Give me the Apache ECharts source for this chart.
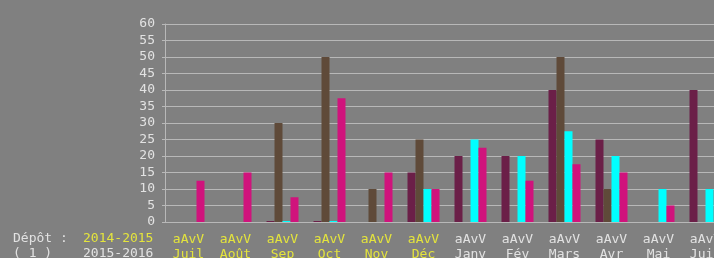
<!DOCTYPE html>
<html>
<head>
<meta charset="utf-8">
<script src="https://cdn.jsdelivr.net/npm/echarts@6/dist/echarts.min.js"></script>
<style>
  html, body { margin: 0; padding: 0; background: #808080; }
  #chart { width: 714px; height: 258px; }
</style>
</head>
<body>
<div id="chart"></div>
<script>
// data
const months = ['Juil', 'Août', 'Sep', 'Oct', 'Nov', 'Déc', 'Janv', 'Fév', 'Mars', 'Avr', 'Mai', 'Juin'];
const seasonA = [0, 0, 0.3, 0.3, 0, 15, 20, 20, 40, 25, 0, 40];
const seasonB = [0, 0, 30, 50, 10, 25, 0, 0, 50, 10, 0, 0];
const seasonC = [0, 0, 0.3, 0.3, 0, 10, 25, 20, 27.5, 20, 10, 10];
const seasonD = [12.5, 15, 7.5, 37.5, 15, 10, 22.5, 12.5, 17.5, 15, 5, 0];
const yTicks = [0, 5, 10, 15, 20, 25, 30, 35, 40, 45, 50, 55, 60];

const mono = 'DejaVu Sans Mono';
const yellow = '#e4e43c';
const light = '#e2e2e2';
const lineCol = '#b8b8b8';

const chart = echarts.init(document.getElementById('chart'));

const bar = (name, data, color) => ({
  name: name,
  type: 'bar',
  data: data,
  barWidth: 8,
  barGap: '0%',
  itemStyle: { color: color }
});

chart.setOption({
  backgroundColor: '#808080',
  animation: false,
  // the plot runs past the right edge and the labels past the bottom, as in the original
  grid: { left: 165, width: 564, top: 24, bottom: 36, outerBoundsMode: 'none' },
  xAxis: {
    type: 'category',
    data: months,
    axisLine: { lineStyle: { color: lineCol } },
    axisTick: { length: 8, lineStyle: { color: lineCol } },
    axisLabel: {
      margin: 10,
      fontFamily: mono,
      fontSize: 13,
      lineHeight: 15,
      color: (v, i) => (i < 6 ? yellow : light),
      formatter: v => 'aAvV\n' + v
    }
  },
  yAxis: {
    type: 'value',
    min: yTicks[0],
    max: yTicks[yTicks.length - 1],
    interval: 5,
    axisLine: { show: true, lineStyle: { color: lineCol } },
    axisTick: { show: true, length: 3, lineStyle: { color: lineCol } },
    splitLine: { lineStyle: { color: lineCol } },
    axisLabel: { margin: 10, fontFamily: mono, fontSize: 13, color: light }
  },
  series: [
    bar('A', seasonA, '#6b1f48'),
    bar('B', seasonB, '#5f4a39'),
    bar('C', seasonC, '#00ffff'),
    bar('D', seasonD, '#d0137c')
  ],
  graphic: [
    { type: 'text', left: 13, top: 232, style: { text: 'Dépôt :', font: '13px ' + mono, fill: light } },
    { type: 'text', left: 13, top: 247, style: { text: '( 1 )', font: '13px ' + mono, fill: light } },
    { type: 'text', left: 83, top: 232, style: { text: '2014-2015', font: '13px ' + mono, fill: yellow } },
    { type: 'text', left: 83, top: 247, style: { text: '2015-2016', font: '13px ' + mono, fill: light } }
  ]
});
</script>
</body>
</html>
